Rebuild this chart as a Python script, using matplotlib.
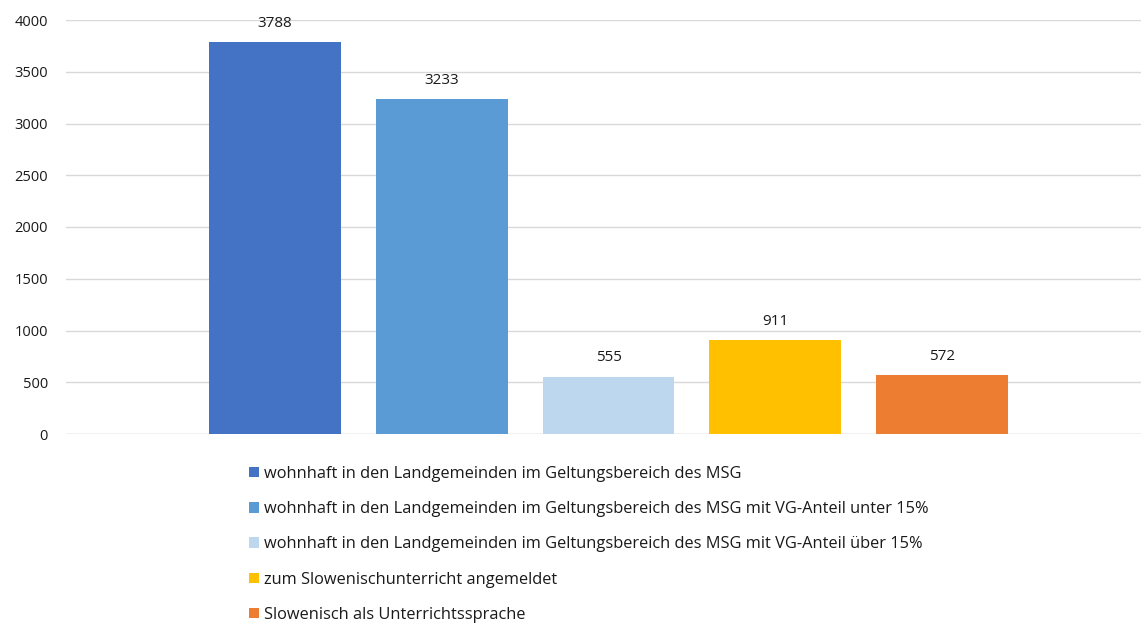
import matplotlib.pyplot as plt
from matplotlib.patches import Patch

plt.rcParams['font.family'] = ['Open Sans', 'DejaVu Sans']

# Daten
labels = [
    'wohnhaft in den Landgemeinden im Geltungsbereich des MSG',
    'wohnhaft in den Landgemeinden im Geltungsbereich des MSG mit VG-Anteil unter 15%',
    'wohnhaft in den Landgemeinden im Geltungsbereich des MSG mit VG-Anteil über 15%',
    'zum Slowenischunterricht angemeldet',
    'Slowenisch als Unterrichtssprache',
]
values = [3788, 3233, 555, 911, 572]
colors = ['#4472c4', '#5b9bd5', '#bdd7ee', '#ffc000', '#ed7d31']
yticks = [0, 500, 1000, 1500, 2000, 2500, 3000, 3500, 4000]

fig = plt.figure(figsize=(11.41, 6.23), dpi=100)
ax = fig.add_axes([66 / 1141, 189 / 623, 1075 / 1141, 414 / 623])

x = list(range(len(values)))
ax.bar(x, values, width=0.79, color=colors, zorder=3)

for xi, v in zip(x, values):
    ax.annotate(str(v), (xi, v), xytext=(0, 8), textcoords='offset points',
                ha='center', va='bottom', fontsize=11, color='#1a1a1a')

ax.set_xlim(-1.25, 5.19)
ax.set_ylim(0, 4000)
ax.set_yticks(yticks)
ax.set_xticks([])
ax.yaxis.grid(True, color='#d9d9d9', linewidth=1, zorder=0)
ax.tick_params(axis='y', length=0, pad=13, labelsize=10.5, labelcolor='#1a1a1a')
for s in ax.spines.values():
    s.set_visible(False)
ax.axhline(0, color='#d9d9d9', linewidth=1, zorder=1)

handles = [Patch(facecolor=c, edgecolor='none') for c in colors]
fig.legend(handles, labels, loc='upper left', bbox_to_anchor=(249 / 1141, 1 - 466 / 623),
           frameon=False, fontsize=11.8, handlelength=0.6, handleheight=0.6,
           handletextpad=0.3, labelspacing=1.17, borderaxespad=0, borderpad=0,
           labelcolor='#1a1a1a')

fig.savefig('out.png', dpi=100)
